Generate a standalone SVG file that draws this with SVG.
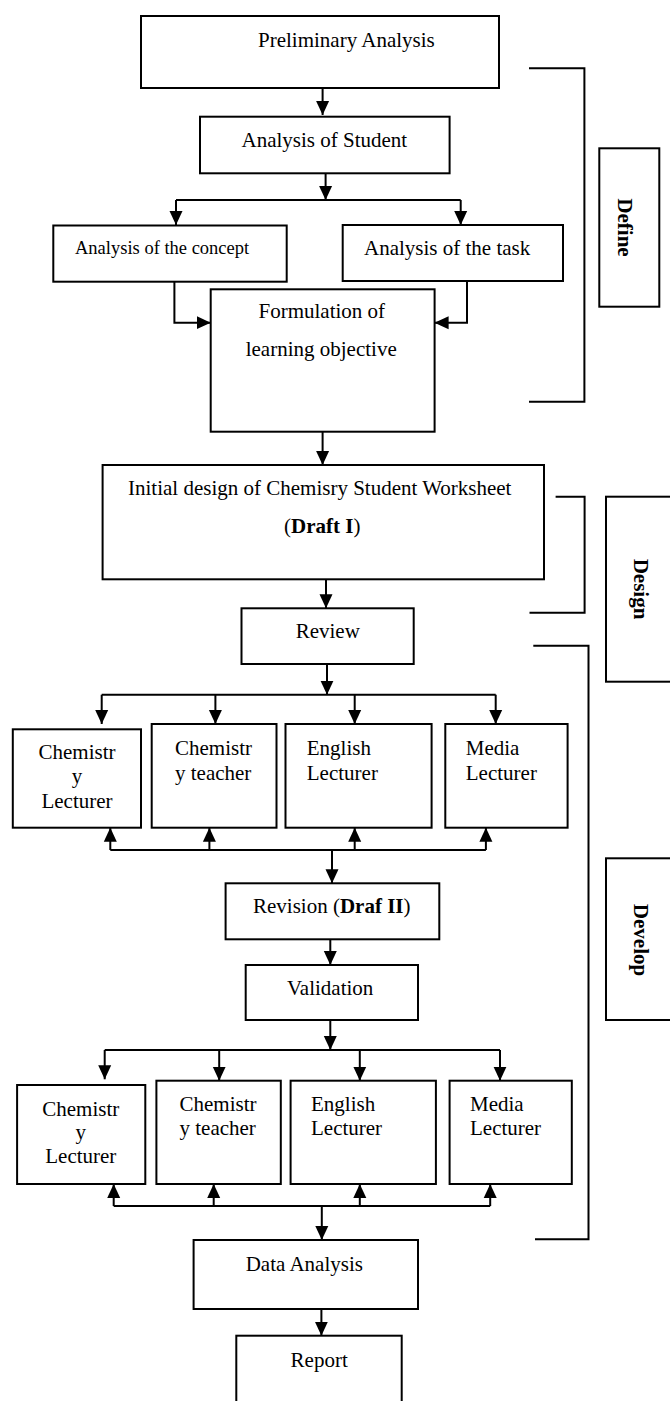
<svg xmlns="http://www.w3.org/2000/svg" width="670" height="1401" viewBox="0 0 670 1401">
<style>
.box{fill:#fff;stroke:#000;stroke-width:2}
.t{font-family:"Liberation Serif","Times New Roman",serif;font-size:21px;fill:#000}
.s{font-size:18.5px}
.b{font-weight:bold}
.c{fill:none;stroke:#000;stroke-width:2}
.br{fill:none;stroke:#000;stroke-width:2}
</style>
<defs>
<marker id="ah" viewBox="0 0 14 14" markerWidth="14" markerHeight="14" refX="14" refY="7" orient="auto" markerUnits="userSpaceOnUse">
<path d="M0,0.5 L14,7 L0,13.5 z" fill="#000"/>
</marker>
</defs>
<rect width="670" height="1401" fill="#fff"/>

<g id="connectors">
<path class="c" d="M322.6,88 V115" marker-end="url(#ah)"/>
<path class="c" d="M325.6,173.3 V200" marker-end="url(#ah)"/>
<path class="c" d="M176,200 H460.7"/>
<path class="c" d="M176,200 V225" marker-end="url(#ah)"/>
<path class="c" d="M460.7,200 V225" marker-end="url(#ah)"/>
<path class="c" d="M174.4,281.7 V322.7 H210.7" marker-end="url(#ah)"/>
<path class="c" d="M467,281 V322.7 H434.6" marker-end="url(#ah)"/>
<path class="c" d="M322.6,431.7 V465" marker-end="url(#ah)"/>
<path class="c" d="M326,579.3 V608.3" marker-end="url(#ah)"/>
<path class="c" d="M327,664 V694.7" marker-end="url(#ah)"/>
<path class="c" d="M101.7,694.7 H495.7"/>
<path class="c" d="M101.7,694.7 V724" marker-end="url(#ah)"/>
<path class="c" d="M215.4,694.7 V724" marker-end="url(#ah)"/>
<path class="c" d="M354.7,694.7 V724" marker-end="url(#ah)"/>
<path class="c" d="M495.7,694.7 V724" marker-end="url(#ah)"/>
<path class="c" d="M110.3,850 H485.9"/>
<path class="c" d="M110.3,850 V827.7" marker-end="url(#ah)"/>
<path class="c" d="M209.4,850 V827.7" marker-end="url(#ah)"/>
<path class="c" d="M354.7,850 V827.7" marker-end="url(#ah)"/>
<path class="c" d="M485.9,850 V827.7" marker-end="url(#ah)"/>
<path class="c" d="M332,850 V883.3" marker-end="url(#ah)"/>
<path class="c" d="M330.3,939.3 V965" marker-end="url(#ah)"/>
<path class="c" d="M330.3,1020 V1050" marker-end="url(#ah)"/>
<path class="c" d="M104.7,1050 H500"/>
<path class="c" d="M104.7,1050 V1079.3" marker-end="url(#ah)"/>
<path class="c" d="M219.2,1050 V1080.7" marker-end="url(#ah)"/>
<path class="c" d="M359.8,1050 V1080.7" marker-end="url(#ah)"/>
<path class="c" d="M500,1050 V1080.7" marker-end="url(#ah)"/>
<path class="c" d="M113.7,1206 H490.2"/>
<path class="c" d="M113.7,1206 V1184" marker-end="url(#ah)"/>
<path class="c" d="M213.7,1206 V1184" marker-end="url(#ah)"/>
<path class="c" d="M359.8,1206 V1184" marker-end="url(#ah)"/>
<path class="c" d="M490.2,1206 V1184" marker-end="url(#ah)"/>
<path class="c" d="M321.8,1206 V1240" marker-end="url(#ah)"/>
<path class="c" d="M321.4,1309 V1335.7" marker-end="url(#ah)"/>
</g>

<g id="brackets">
<path class="br" d="M529,68.3 H584.4 V401.7 H529"/>
<path class="br" d="M555.6,496.7 H584.6 V612.7 H529.5"/>
<path class="br" d="M533.3,645.7 H588.5 V1239.3 H535"/>
</g>

<g id="preliminary">
<rect class="box" x="141" y="16" width="358" height="72"/>
<text class="t" x="258" y="46.7">Preliminary Analysis</text>
</g>
<g id="student">
<rect class="box" x="200" y="116.7" width="249.6" height="56.6"/>
<text class="t" x="241.5" y="146.7">Analysis of Student</text>
</g>
<g id="concept">
<rect class="box" x="53.3" y="225.5" width="233.4" height="56.2"/>
<text class="t s" x="75" y="254">Analysis of the concept</text>
</g>
<g id="task">
<rect class="box" x="342.7" y="225" width="220.3" height="56"/>
<text class="t" x="364" y="255">Analysis of the task</text>
</g>
<g id="formulation">
<rect class="box" x="210.7" y="289.3" width="223.9" height="142.4"/>
<text class="t" x="258.5" y="318.3">Formulation of</text>
<text class="t" x="245.7" y="356">learning objective</text>
</g>
<g id="initial">
<rect class="box" x="102.6" y="465" width="441.4" height="114.3"/>
<text class="t" x="128" y="495">Initial design of Chemisry Student Worksheet</text>
<text class="t" x="284" y="532.7">(<tspan class="b">Draft I</tspan>)</text>
</g>
<g id="review">
<rect class="box" x="241.5" y="608.3" width="172.2" height="55.7"/>
<text class="t" x="295.7" y="638.3">Review</text>
</g>
<g id="r1-chem-lecturer">
<rect class="box" x="12.8" y="729.3" width="128.2" height="98.4"/>
<text class="t" x="77" y="759.3" text-anchor="middle">Chemistr</text>
<text class="t" x="77" y="783.3" text-anchor="middle">y</text>
<text class="t" x="77" y="808.3" text-anchor="middle">Lecturer</text>
</g>
<g id="r1-chem-teacher">
<rect class="box" x="151.7" y="724" width="124.8" height="103.7"/>
<text class="t" x="175" y="755">Chemistr</text>
<text class="t" x="175" y="780">y teacher</text>
</g>
<g id="r1-english">
<rect class="box" x="285.5" y="724" width="146.1" height="103.7"/>
<text class="t" x="306.8" y="755">English</text>
<text class="t" x="306.8" y="780">Lecturer</text>
</g>
<g id="r1-media">
<rect class="box" x="445.3" y="724" width="122.3" height="103.7"/>
<text class="t" x="465.8" y="755">Media</text>
<text class="t" x="465.8" y="780">Lecturer</text>
</g>
<g id="revision">
<rect class="box" x="225.6" y="883.3" width="213.7" height="56"/>
<text class="t" x="253" y="913.3">Revision (<tspan class="b">Draf II</tspan>)</text>
</g>
<g id="validation">
<rect class="box" x="245.7" y="965" width="172.3" height="55"/>
<text class="t" x="287" y="995">Validation</text>
</g>
<g id="r2-chem-lecturer">
<rect class="box" x="17.1" y="1085" width="128.2" height="99"/>
<text class="t" x="80.8" y="1116" text-anchor="middle">Chemistr</text>
<text class="t" x="80.8" y="1139.3" text-anchor="middle">y</text>
<text class="t" x="80.8" y="1163.3" text-anchor="middle">Lecturer</text>
</g>
<g id="r2-chem-teacher">
<rect class="box" x="156.4" y="1080.7" width="124.4" height="103.3"/>
<text class="t" x="179.5" y="1110.7">Chemistr</text>
<text class="t" x="179.5" y="1135">y teacher</text>
</g>
<g id="r2-english">
<rect class="box" x="290.6" y="1080.7" width="145.3" height="103.3"/>
<text class="t" x="311" y="1110.7">English</text>
<text class="t" x="311" y="1135">Lecturer</text>
</g>
<g id="r2-media">
<rect class="box" x="449.6" y="1080.7" width="122.2" height="103.3"/>
<text class="t" x="470" y="1110.7">Media</text>
<text class="t" x="470" y="1135">Lecturer</text>
</g>
<g id="data-analysis">
<rect class="box" x="193.6" y="1240" width="224.4" height="69"/>
<text class="t" x="245.7" y="1270.7">Data Analysis</text>
</g>
<g id="report">
<rect class="box" x="236.3" y="1335.7" width="165.4" height="90"/>
<text class="t" x="290.6" y="1366.7">Report</text>
</g>

<g id="phase-define">
<rect class="box" x="599.3" y="148.3" width="60" height="158.4"/>
<text class="t b" transform="translate(618,227.5) rotate(90)" text-anchor="middle">Define</text>
</g>
<g id="phase-design">
<rect class="box" x="606" y="496.7" width="70" height="185"/>
<text class="t b" transform="translate(634,589) rotate(90)" text-anchor="middle">Design</text>
</g>
<g id="phase-develop">
<rect class="box" x="606" y="858.3" width="70" height="161.7"/>
<text class="t b" transform="translate(634,940) rotate(90)" text-anchor="middle">Develop</text>
</g>
</svg>
